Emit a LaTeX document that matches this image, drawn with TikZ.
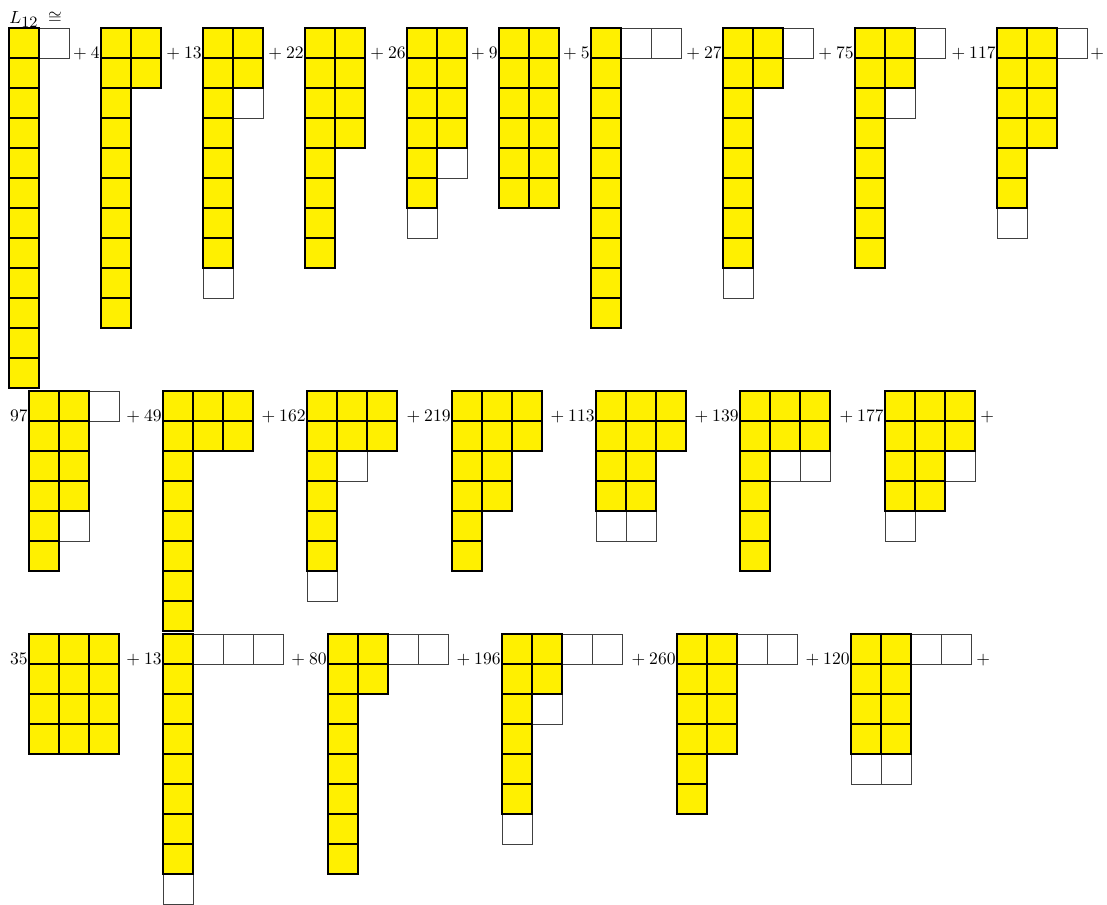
\documentclass[tikz,border=0pt]{standalone}
\definecolor{cellyellow}{RGB}{255,240,0}
\tikzset{
  ycell/.style={draw=black, fill=cellyellow, line width=0.7pt},
  wcell/.style={draw=black!75, fill=white, line width=0.45pt},
  coef/.style={anchor=base east, inner sep=0.6pt, font=\normalsize},
  trail/.style={anchor=base west, inner sep=0.6pt, font=\normalsize}
}
% #1 x0, #2 y0, #3 first row, #4 last row, #5 number of columns
\newcommand\yblock[5]{%
  \foreach \rr in {#3,...,#4}{%
    \foreach \cc in {1,...,#5}{%
      \draw[ycell] ({#1+(\cc-1)*30},{#2+\rr*30}) rectangle ++(30,30);
    }%
  }%
}
% #1 x0, #2 y0, #3 list of row/col
\newcommand\wblock[3]{%
  \foreach \rr/\cc in {#3}{%
    \draw[wcell] ({#1+\cc*30},{#2+\rr*30}) rectangle ++(30,30);
  }%
}
\begin{document}
\begin{tikzpicture}[x=0.02cm, y=-0.02cm]
\useasboundingbox (0,0) rectangle (1107,904);
\node[anchor=base west, inner sep=0pt] (title) at (9,23) {$L_{\mbox{\small 12}}\;\cong$};
% ---------------- Row 1 ----------------
% D1
\wblock{9}{28}{0/1}
\yblock{9}{28}{0}{11}{1}
\node[coef] (c2) at (101,58) {${}+4$};
% D2
\yblock{101}{28}{0}{1}{2}
\yblock{101}{28}{2}{9}{1}
\node[coef] (c3) at (203,58) {${}+13$};
% D3
\wblock{203}{28}{2/1,8/0}
\yblock{203}{28}{0}{1}{2}
\yblock{203}{28}{2}{7}{1}
\node[coef] (c4) at (305,58) {${}+22$};
% D4
\yblock{305}{28}{0}{3}{2}
\yblock{305}{28}{4}{7}{1}
\node[coef] (c5) at (407,58) {${}+26$};
% D5
\wblock{407}{28}{4/1,6/0}
\yblock{407}{28}{0}{3}{2}
\yblock{407}{28}{4}{5}{1}
\node[coef] (c6) at (499,58) {${}+9$};
% D6
\yblock{499}{28}{0}{5}{2}
\node[coef] (c7) at (591,58) {${}+5$};
% D7
\wblock{591}{28}{0/1,0/2}
\yblock{591}{28}{0}{9}{1}
\node[coef] (c8) at (723,58) {${}+27$};
% D8
\wblock{723}{28}{0/2,8/0}
\yblock{723}{28}{0}{1}{2}
\yblock{723}{28}{2}{7}{1}
\node[coef] (c9) at (855,58) {${}+75$};
% D9
\wblock{855}{28}{0/2,2/1}
\yblock{855}{28}{0}{1}{2}
\yblock{855}{28}{2}{7}{1}
\node[coef] (c10) at (997,58) {${}+117$};
% D10
\wblock{997}{28}{0/2,6/0}
\yblock{997}{28}{0}{3}{2}
\yblock{997}{28}{4}{5}{1}
\node[trail] (t1) at (1089,58) {$+$};
% ---------------- Row 2 ----------------
\node[coef] (c11) at (29,421) {$97$};
% D11
\wblock{29}{391}{0/2,4/1}
\yblock{29}{391}{0}{3}{2}
\yblock{29}{391}{4}{5}{1}
\node[coef] (c12) at (163,421) {${}+49$};
% D12
\yblock{163}{391}{0}{1}{3}
\yblock{163}{391}{2}{7}{1}
\node[coef] (c13) at (307,421) {${}+162$};
% D13
\wblock{307}{391}{2/1,6/0}
\yblock{307}{391}{0}{1}{3}
\yblock{307}{391}{2}{5}{1}
\node[coef] (c14) at (452,421) {${}+219$};
% D14
\yblock{452}{391}{0}{1}{3}
\yblock{452}{391}{2}{3}{2}
\yblock{452}{391}{4}{5}{1}
\node[coef] (c15) at (596,421) {${}+113$};
% D15
\wblock{596}{391}{4/0,4/1}
\yblock{596}{391}{0}{1}{3}
\yblock{596}{391}{2}{3}{2}
\node[coef] (c16) at (740,421) {${}+139$};
% D16
\wblock{740}{391}{2/1,2/2}
\yblock{740}{391}{0}{1}{3}
\yblock{740}{391}{2}{5}{1}
\node[coef] (c17) at (885,421) {${}+177$};
% D17
\wblock{885}{391}{2/2,4/0}
\yblock{885}{391}{0}{1}{3}
\yblock{885}{391}{2}{3}{2}
\node[trail] (t2) at (979,421) {$+$};
% ---------------- Row 3 ----------------
\node[coef] (c18) at (29,664) {$35$};
% D18
\yblock{29}{634}{0}{3}{3}
\node[coef] (c19) at (163,664) {${}+13$};
% D19
\wblock{163}{634}{0/1,0/2,0/3,8/0}
\yblock{163}{634}{0}{7}{1}
\node[coef] (c20) at (328,664) {${}+80$};
% D20
\wblock{328}{634}{0/2,0/3}
\yblock{328}{634}{0}{1}{2}
\yblock{328}{634}{2}{7}{1}
\node[coef] (c21) at (502,664) {${}+196$};
% D21
\wblock{502}{634}{0/2,0/3,2/1,6/0}
\yblock{502}{634}{0}{1}{2}
\yblock{502}{634}{2}{5}{1}
\node[coef] (c22) at (677,664) {${}+260$};
% D22
\wblock{677}{634}{0/2,0/3}
\yblock{677}{634}{0}{3}{2}
\yblock{677}{634}{4}{5}{1}
\node[coef] (c23) at (851,664) {${}+120$};
% D23
\wblock{851}{634}{0/2,0/3,4/0,4/1}
\yblock{851}{634}{0}{3}{2}
\node[trail] (t3) at (975,664) {$+$};
\end{tikzpicture}
\end{document}
